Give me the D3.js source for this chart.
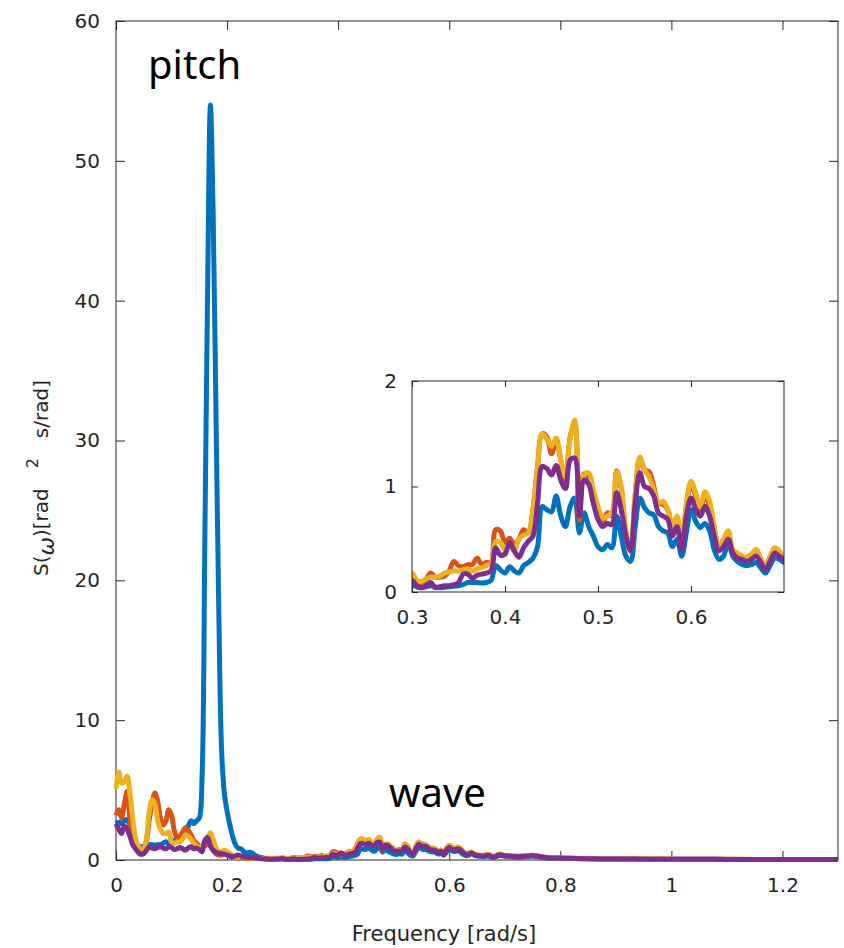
<!DOCTYPE html>
<html>
<head>
<meta charset="utf-8">
<script src="https://cdn.jsdelivr.net/npm/d3@7"></script>
<style>
  body { margin: 0; background: #fff; }
  svg { display: block; }
  .tick text { font-family: "DejaVu Sans", sans-serif; font-size: 20px; fill: #262626; }
  .domain { display: none; }
  .tick line { stroke: #262626; stroke-width: 1; }
</style>
</head>
<body>
<div id="chart"></div>
<script>
// frequency grid [rad/s]
var freq = [
  0, 0.005, 0.01, 0.015, 0.02, 0.025, 0.03, 0.035, 0.04, 0.045,
  0.05, 0.055, 0.06, 0.065, 0.07, 0.075, 0.08, 0.085, 0.09, 0.095,
  0.1, 0.105, 0.11, 0.115, 0.12, 0.125, 0.13, 0.135, 0.14, 0.145,
  0.15, 0.155, 0.16, 0.165, 0.17, 0.175, 0.18, 0.185, 0.19, 0.195,
  0.2, 0.205, 0.21, 0.215, 0.22, 0.225, 0.23, 0.235, 0.24, 0.245,
  0.25, 0.255, 0.26, 0.265, 0.27, 0.275, 0.28, 0.285, 0.29, 0.295, 0.3,
  0.305, 0.31, 0.315, 0.32, 0.325, 0.33, 0.335, 0.34, 0.345, 0.35,
  0.355, 0.36, 0.365, 0.37, 0.375, 0.38, 0.385, 0.39, 0.395, 0.4,
  0.405, 0.41, 0.415, 0.42, 0.425, 0.43, 0.435, 0.44, 0.445, 0.45,
  0.455, 0.46, 0.465, 0.47, 0.475, 0.48, 0.485, 0.49, 0.495, 0.5,
  0.505, 0.51, 0.515, 0.52, 0.525, 0.53, 0.535, 0.54, 0.545, 0.55,
  0.555, 0.56, 0.565, 0.57, 0.575, 0.58, 0.585, 0.59, 0.595, 0.6,
  0.605, 0.61, 0.615, 0.62, 0.625, 0.63, 0.635, 0.64, 0.645, 0.65,
  0.655, 0.66, 0.665, 0.67, 0.675, 0.68, 0.685, 0.69, 0.695, 0.7,
  0.725, 0.75, 0.775, 0.8, 0.825, 0.85, 0.875, 0.9, 0.95, 1.0,
  1.05, 1.1, 1.15, 1.2, 1.25, 1.3
];

var blue = [
  2.6, 2.7, 2.6, 2.8, 2.9, 2.4, 1.8, 1.2, 1.0, 0.95,
  0.95, 1.0, 1.1, 1.1, 1.05, 1.1, 1.1, 1.2, 1.3, 1.2,
  1.3, 1.4, 1.5, 1.5, 1.6, 1.8, 2.4, 2.8, 2.6, 2.8,
  3.0, 6, 23, 41, 54, 46, 32, 18, 8, 4.8,
  3.5, 2.5, 1.7, 1.1, 0.85, 0.8, 0.6, 0.5, 0.55, 0.5,
  0.35, 0.25, 0.2, 0.15, 0.12, 0.1, 0.08, 0.08, 0.07, 0.07, 0.07,
  0.05, 0.04, 0.05, 0.06, 0.05, 0.04, 0.045, 0.05, 0.055, 0.06,
  0.07, 0.09, 0.09, 0.09, 0.085, 0.09, 0.11, 0.25, 0.21, 0.18,
  0.24, 0.2, 0.18, 0.25, 0.28, 0.32, 0.43, 0.81, 0.78, 0.76,
  0.91, 0.72, 0.62, 0.81, 0.89, 0.56, 0.75, 0.62, 0.53, 0.43,
  0.4, 0.45, 0.42, 0.72, 0.53, 0.34, 0.29, 0.62, 0.89, 0.8,
  0.75, 0.73, 0.62, 0.58, 0.56, 0.43, 0.5, 0.34, 0.56, 0.78,
  0.67, 0.61, 0.65, 0.58, 0.4, 0.31, 0.34, 0.47, 0.34, 0.29,
  0.26, 0.25, 0.26, 0.28, 0.23, 0.18, 0.25, 0.32, 0.31, 0.28,
  0.2, 0.28, 0.15, 0.12, 0.1, 0.09, 0.08, 0.07, 0.06, 0.05,
  0.05, 0.04, 0.04, 0.03, 0.03, 0.03
];

var orange = [
  3.2, 3.6, 3.0, 4.0, 4.9, 3.0, 1.6, 1.0, 0.75, 0.7,
  0.8, 1.4, 2.9, 4.0, 4.8, 4.2, 3.0, 2.5, 2.8, 3.6,
  3.2, 2.1, 1.6, 1.7, 2.0, 2.3, 2.1, 1.8, 1.4, 1.2,
  1.0, 0.9, 1.0, 1.2, 1.0, 0.7, 0.45, 0.35, 0.35, 0.4,
  0.4, 0.3, 0.2, 0.2, 0.15, 0.2, 0.15, 0.12, 0.1, 0.12,
  0.1, 0.1, 0.12, 0.1, 0.1, 0.12, 0.1, 0.12, 0.1, 0.1, 0.12,
  0.09, 0.09, 0.12, 0.18, 0.14, 0.14, 0.15, 0.2, 0.29, 0.25,
  0.24, 0.26, 0.26, 0.32, 0.26, 0.28, 0.28, 0.59, 0.58, 0.47,
  0.51, 0.45, 0.5, 0.59, 0.56, 0.78, 1.19, 1.5, 1.47, 1.31,
  1.44, 1.25, 1.06, 1.47, 1.6, 0.68, 1.12, 1.09, 0.94, 0.78,
  0.65, 0.75, 0.72, 1.15, 0.97, 0.56, 0.4, 0.91, 1.27, 1.16,
  1.14, 1.0, 0.84, 0.83, 0.78, 0.59, 0.7, 0.43, 0.81, 1.02,
  0.91, 0.78, 0.92, 0.81, 0.59, 0.42, 0.5, 0.56, 0.39, 0.36,
  0.32, 0.32, 0.34, 0.4, 0.31, 0.24, 0.32, 0.4, 0.37, 0.32,
  0.26, 0.33, 0.18, 0.15, 0.12, 0.1, 0.09, 0.08, 0.07, 0.06,
  0.05, 0.05, 0.04, 0.04, 0.03, 0.03
];

var yellow = [
  5.1, 6.3, 5.5, 5.6, 6.0, 4.8, 3.0, 1.6, 1.0, 0.8,
  0.75, 1.6, 3.5, 4.3, 4.0, 2.8, 2.2, 1.9, 1.9, 2.0,
  1.3, 1.2, 1.3, 1.3, 1.5, 1.8, 1.7, 1.5, 1.2, 1.0,
  0.9, 1.0, 1.3, 1.6, 1.95, 1.45, 0.9, 0.6, 0.6, 0.7,
  0.6, 0.5, 0.3, 0.2, 0.2, 0.25, 0.2, 0.15, 0.15, 0.1,
  0.12, 0.1, 0.12, 0.1, 0.08, 0.1, 0.12, 0.1, 0.12, 0.15, 0.18,
  0.11, 0.1, 0.12, 0.14, 0.14, 0.15, 0.18, 0.19, 0.2, 0.2,
  0.21, 0.22, 0.2, 0.22, 0.23, 0.25, 0.27, 0.48, 0.47, 0.4,
  0.45, 0.39, 0.5, 0.54, 0.56, 0.78, 1.19, 1.5, 1.45, 1.38,
  1.46, 1.25, 1.09, 1.45, 1.63, 0.75, 1.11, 1.13, 0.97, 0.81,
  0.7, 0.72, 0.75, 1.14, 1.0, 0.56, 0.4, 0.94, 1.28, 1.16,
  1.09, 0.97, 0.84, 0.86, 0.78, 0.62, 0.72, 0.45, 0.84, 1.05,
  0.94, 0.81, 0.95, 0.86, 0.62, 0.43, 0.5, 0.58, 0.4, 0.37,
  0.34, 0.33, 0.36, 0.4, 0.32, 0.25, 0.34, 0.42, 0.39, 0.33,
  0.27, 0.34, 0.19, 0.15, 0.12, 0.1, 0.09, 0.08, 0.07, 0.06,
  0.05, 0.05, 0.04, 0.04, 0.03, 0.03
];

var purple = [
  2.6, 2.2, 1.9, 2.4, 2.2, 1.7, 1.1, 0.8, 0.55, 0.4,
  0.45, 0.7, 0.95, 0.85, 0.8, 0.9, 0.95, 0.85, 0.8, 0.95,
  0.9, 0.75, 0.8, 0.9, 0.8, 0.7, 0.85, 0.95, 0.8, 0.85,
  0.75, 0.6, 1.4, 1.6, 1.0, 0.7, 0.55, 0.48, 0.45, 0.42,
  0.35, 0.28, 0.24, 0.3, 0.36, 0.3, 0.22, 0.2, 0.18, 0.16,
  0.14, 0.12, 0.1, 0.08, 0.07, 0.06, 0.06, 0.06, 0.07, 0.08, 0.11,
  0.06, 0.04, 0.06, 0.09, 0.04, 0.05, 0.06, 0.06, 0.07, 0.09,
  0.17, 0.17, 0.13, 0.16, 0.17, 0.18, 0.2, 0.42, 0.35, 0.36,
  0.47, 0.39, 0.33, 0.42, 0.48, 0.53, 0.84, 1.19, 1.17, 1.11,
  1.2, 1.06, 0.98, 1.25, 1.27, 0.72, 1.06, 1.02, 0.84, 0.69,
  0.62, 0.65, 0.64, 0.94, 0.78, 0.53, 0.39, 0.84, 1.13, 1.0,
  0.98, 0.91, 0.75, 0.72, 0.69, 0.53, 0.62, 0.4, 0.72, 0.89,
  0.78, 0.72, 0.81, 0.72, 0.53, 0.39, 0.43, 0.5, 0.37, 0.32,
  0.31, 0.29, 0.31, 0.34, 0.28, 0.21, 0.29, 0.37, 0.34, 0.31,
  0.24, 0.31, 0.17, 0.13, 0.11, 0.09, 0.08, 0.07, 0.06, 0.05,
  0.05, 0.04, 0.04, 0.03, 0.03, 0.03
];

var seriesNames = ["blue", "orange", "yellow", "purple"];
var seriesColors = ["#0072BD", "#D95319", "#EDB120", "#7E2F8E"];
var seriesValues = [blue, orange, yellow, purple];

var xTicks = [0, 0.2, 0.4, 0.6, 0.8, 1, 1.2];
var yTicks = [0, 10, 20, 30, 40, 50, 60];
var insetXTicks = [0.3, 0.4, 0.5, 0.6];
var insetYTicks = [0, 1, 2];

var width = 844, height = 948;
var tickColor = "#262626";
var plain = d3.format("");

var svg = d3.select("#chart").append("svg")
  .attr("width", width)
  .attr("height", height);

// ---- main axes
var x = d3.scaleLinear().domain([0, 1.3]).range([116, 838]);
var y = d3.scaleLinear().domain([0, 60]).range([860, 21]);

svg.append("g")
  .attr("transform", "translate(0,860)")
  .call(d3.axisBottom(x).tickValues(xTicks).tickSize(-9).tickPadding(18).tickFormat(plain));
svg.append("g")
  .attr("transform", "translate(0,21)")
  .call(d3.axisTop(x).tickValues(xTicks).tickSize(-9).tickFormat(""));
svg.append("g")
  .attr("transform", "translate(116,0)")
  .call(d3.axisLeft(y).tickValues(yTicks).tickSize(-9).tickPadding(16).tickFormat(plain));
svg.append("g")
  .attr("transform", "translate(838,0)")
  .call(d3.axisRight(y).tickValues(yTicks).tickSize(-9).tickFormat(""));

svg.append("rect")
  .attr("x", 116).attr("y", 21)
  .attr("width", 838 - 116).attr("height", 860 - 21)
  .attr("fill", "none").attr("stroke", tickColor).attr("stroke-width", 1);

var line = d3.line()
  .x(function(d) { return x(d[0]); })
  .y(function(d) { return y(d[1]); })
  .curve(d3.curveCatmullRom.alpha(0.5));

seriesValues.forEach(function(vals, i) {
  var pts = freq.map(function(f, k) { return [f, vals[k]]; });
  svg.append("path")
    .datum(pts)
    .attr("class", "line-" + seriesNames[i])
    .attr("fill", "none")
    .attr("stroke", seriesColors[i])
    .attr("stroke-width", 5)
    .attr("stroke-linejoin", "round")
    .attr("d", line);
});

// annotations
svg.append("text")
  .attr("x", 148).attr("y", 79)
  .style("font-family", "'Noto Sans', 'Open Sans', sans-serif")
  .style("font-size", "40px")
  .attr("fill", "#000")
  .text("pitch");
svg.append("text")
  .attr("x", 389).attr("y", 807)
  .style("font-family", "'Noto Sans', 'Open Sans', sans-serif")
  .style("font-size", "40px")
  .attr("fill", "#000")
  .text("wave");

// axis titles
svg.append("text")
  .attr("x", 444).attr("y", 941)
  .attr("text-anchor", "middle")
  .style("font-family", "'DejaVu Sans', sans-serif")
  .style("font-size", "21px")
  .attr("fill", tickColor)
  .text("Frequency [rad/s]");

var yl = svg.append("text")
  .attr("transform", "translate(48,478) rotate(-90)")
  .attr("text-anchor", "middle")
  .style("font-family", "'DejaVu Sans', sans-serif")
  .style("font-size", "20px")
  .attr("fill", tickColor);
yl.append("tspan").text("S(");
yl.append("tspan").attr("dy", 6).style("font-style", "italic").style("font-size", "22px").text("\u03C9");
yl.append("tspan").attr("dy", -6).text(")[rad\u2002\u2002");
yl.append("tspan").attr("dy", -10).style("font-size", "16px").text("2");
yl.append("tspan").attr("dy", 10).text("\u2002\u2002s/rad]");

// ---- inset
var ix = d3.scaleLinear().domain([0.3, 0.7]).range([412, 784]);
var iy = d3.scaleLinear().domain([0, 2]).range([592, 381]);

svg.append("rect")
  .attr("x", 412).attr("y", 381)
  .attr("width", 784 - 412).attr("height", 592 - 381)
  .attr("fill", "#fff");

svg.append("defs").append("clipPath").attr("id", "insetClip")
  .append("rect")
  .attr("x", 412).attr("y", 370)
  .attr("width", 784 - 412).attr("height", 230);

var inset = svg.append("g").attr("class", "inset");
inset.append("g")
  .attr("transform", "translate(0,592)")
  .call(d3.axisBottom(ix).tickValues(insetXTicks).tickSize(-6).tickPadding(18).tickFormat(plain));
inset.append("g")
  .attr("transform", "translate(0,381)")
  .call(d3.axisTop(ix).tickValues(insetXTicks).tickSize(-6).tickFormat(""));
inset.append("g")
  .attr("transform", "translate(412,0)")
  .call(d3.axisLeft(iy).tickValues(insetYTicks).tickSize(-6).tickPadding(15).tickFormat(plain));
inset.append("g")
  .attr("transform", "translate(784,0)")
  .call(d3.axisRight(iy).tickValues(insetYTicks).tickSize(-6).tickFormat(""));

var iline = d3.line()
  .x(function(d) { return ix(d[0]); })
  .y(function(d) { return iy(d[1]); })
  .curve(d3.curveCatmullRom.alpha(0.5));

var ig = inset.append("g").attr("clip-path", "url(#insetClip)");
seriesValues.forEach(function(vals, i) {
  var pts = [];
  freq.forEach(function(f, k) {
    if (f >= 0.295 && f <= 0.725) pts.push([f, vals[k]]);
  });
  ig.append("path")
    .datum(pts)
    .attr("fill", "none")
    .attr("stroke", seriesColors[i])
    .attr("stroke-width", 5)
    .attr("stroke-linejoin", "round")
    .attr("d", iline);
});

inset.append("rect")
  .attr("x", 412).attr("y", 381)
  .attr("width", 784 - 412).attr("height", 592 - 381)
  .attr("fill", "none").attr("stroke", tickColor).attr("stroke-width", 1);
</script>
</body>
</html>
